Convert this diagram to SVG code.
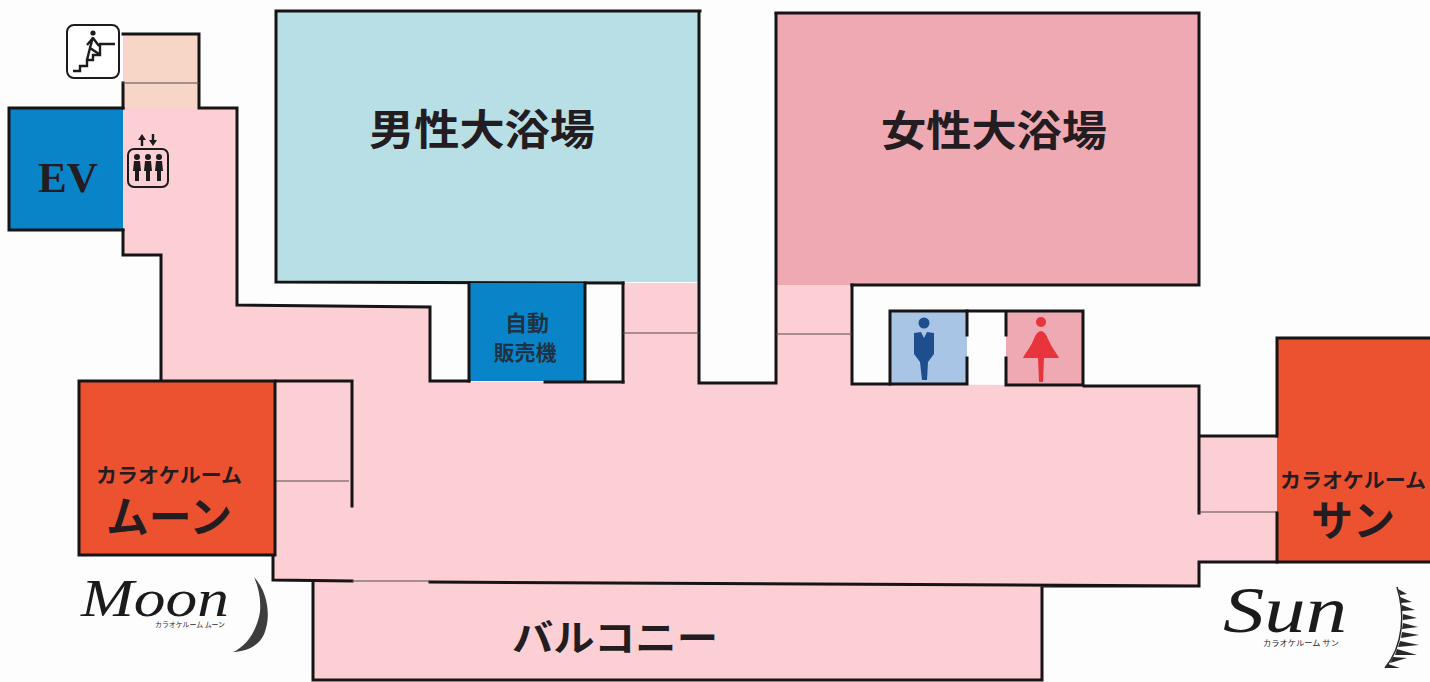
<svg xmlns="http://www.w3.org/2000/svg" width="1430" height="682" viewBox="0 0 1430 682">
<style>
.w{fill:none;stroke:#171416;stroke-width:3;stroke-linecap:square}
.t{fill:none;stroke:#5a4a4c;stroke-width:1.2}
.j{font-family:"Noto Sans CJK JP",sans-serif;font-weight:700;fill:#231c20;text-anchor:middle}
.s{font-family:"Liberation Serif",serif;font-style:italic;fill:#1c1a1c;text-anchor:middle}
.k{fill:#1c1a1c}
.c{font-family:"Noto Sans CJK JP",sans-serif;font-weight:400;fill:#2a2829;text-anchor:middle}
</style>
<rect width="1430" height="682" fill="#fdfdfd"/>
<g id="floor">
<path d="M123 33H199V108H237V305L430 307V382H699V384H776V384H852L1199 386V436H1277V562H1199V586H1042V680H313V582L273 580V380H161V255H123Z" fill="#fbcfd3"/>
<rect x="623" y="283" width="76" height="100" fill="#fbcfd3"/>
<rect x="776" y="284" width="76" height="100" fill="#fbcfd3"/>
<rect x="125" y="35" width="73" height="72" fill="#f7d6c8"/>
</g>
<g id="bath-men">
<rect x="276" y="11" width="424" height="271" fill="#b9dfe6"/>
<path class="w" d="M623 283L276 282V11H700"/>
<text class="j" x="482" y="145" font-size="42" textLength="226" lengthAdjust="spacingAndGlyphs">男性大浴場</text>
</g>
<g id="bath-women">
<rect x="776" y="13" width="423" height="272" fill="#eea9b3"/>
<path class="w" d="M776 13H1199V285H852"/>
<text class="j" x="994" y="146" font-size="42" textLength="226" lengthAdjust="spacingAndGlyphs">女性大浴場</text>
</g>
<g id="ev">
<rect x="9" y="108" width="114" height="122" fill="#0a84c8"/>
<path class="w" d="M123 108H9V230H123"/>
<text x="68" y="192" font-family="Liberation Serif,serif" font-weight="700" font-size="42" fill="#231c20" text-anchor="middle" textLength="60" lengthAdjust="spacingAndGlyphs">EV</text>
</g>
<g id="vending">
<rect x="469" y="283" width="116" height="98" fill="#0a84c8"/>
<path d="M469 283V381M585 283V381M545 382H623" class="w"/>
<text class="j" x="527" y="331" font-size="22" fill-opacity=".8">自動</text>
<text class="j" x="525" y="360" font-size="21" fill-opacity=".8">販売機</text>
</g>
<g id="walls">
<path class="w" d="M123 83V108M123 34H199V108H237V305L430 307V381H469M623 283V382"/>
<path class="w" d="M123 230V255H161V380"/>
<path class="w" d="M699 12V383H776V14"/>
<path class="w" d="M852 285V384H890"/>
<path class="w" d="M1084 386H1199V436H1277M1199 436V513M1199 562V586H1042V680H313V583M430 582L1199 586M1277 562H1199"/>
<path class="w" d="M276 381H352V506M273 556V580L352 581"/>
<path class="t" d="M123 83H199M623 333H699M776 334H852M275 481H349M1199 512H1277M352 581H430"/>
</g>
<g id="moon-room">
<rect x="79" y="381" width="196" height="174" fill="#ec5230" stroke="#171416" stroke-width="3"/>
<text class="j" x="169" y="483" font-size="20" textLength="146" lengthAdjust="spacingAndGlyphs">カラオケルーム</text>
<text class="j" x="169" y="533" font-size="43" textLength="126" lengthAdjust="spacingAndGlyphs">ムーン</text>
</g>
<g id="sun-room">
<path d="M1430 338H1277V562H1430Z" fill="#ec5230"/>
<path class="w" d="M1430 338H1277V436M1277 513V562H1430"/>
<text class="j" x="1353" y="488" font-size="20" textLength="146" lengthAdjust="spacingAndGlyphs">カラオケルーム</text>
<text class="j" x="1353" y="536" font-size="42" textLength="84" lengthAdjust="spacingAndGlyphs">サン</text>
</g>
<g id="toilet-men">
<rect x="890" y="311" width="77" height="73" fill="#a9c5e6"/>
<path class="w" d="M890 311V384H967V358M967 335V311H890"/>
<circle cx="924" cy="323" r="5.500" fill="#1f4e8e"/>
<path d="M914 333L921 332L924 338L927 332L934 333V354L928 362L927 380H922L920 362L914 354Z" fill="#1f4e8e"/>
</g>
<g id="toilet-women">
<rect x="1006" y="311" width="77" height="73" fill="#eea9b3"/>
<path class="w" d="M967 311H1083V385M1083 385H1006V358M1006 335V311"/>
<circle cx="1041" cy="322" r="5" fill="#e8343c"/>
<path d="M1041 331C1046 332 1047 337 1049 341C1052 348 1056 352 1059 358H1044L1043 382H1039L1038 358H1023C1026 352 1030 348 1033 341C1035 337 1036 332 1041 331Z" fill="#e8343c"/>
</g>
<g id="balcony">
<text class="j" x="615" y="652" font-size="37" textLength="206" lengthAdjust="spacingAndGlyphs">バルコニー</text>
</g>
<g id="stairs-icon">
<rect x="67" y="25" width="52" height="53" rx="7" fill="#fff" stroke="#1c1a1c" stroke-width="2"/>
<path d="M73 71H80V66H87V60H93V55H100V44H115" fill="none" stroke="#1c1a1c" stroke-width="2.400"/>
<circle cx="93" cy="33" r="2.600" class="k"/>
<path d="M93 37L90 48L87 60M93 38L87 45M93 38L99 46M90 48L99 54" fill="none" stroke="#1c1a1c" stroke-width="2.400"/>
</g>
<g id="elevator-icon">
<rect x="128" y="149" width="40" height="38" rx="6" fill="none" stroke="#1c1a1c" stroke-width="2"/>
<g class="k">
<circle cx="137" cy="157" r="3"/><path d="M134 161H140L141 171H139V181H135V171H133Z"/>
<circle cx="148" cy="157" r="3"/><path d="M145 161H151L152 171H150V181H146V171H144Z"/>
<circle cx="159" cy="157" r="3"/><path d="M156 161H162L163 171H161V181H157V171H155Z"/>
<path d="M142 134L146 140H143.200V146H140.800V140H138Z"/>
<path d="M153 146L149 140H151.800V134H154.200V140H157Z"/>
</g>
</g>
<g id="moon-logo">
<text class="s" x="155" y="616" font-size="52" textLength="148" lengthAdjust="spacingAndGlyphs">Moon</text>
<text class="c" x="190" y="627" font-size="7" textLength="70" lengthAdjust="spacingAndGlyphs">カラオケルーム ムーン</text>
<path d="M254 577C268 592 270 615 266 628C263 642 252 651 233 652C247 646 257 630 260 612C261 600 259 588 254 577Z" fill="#3e3c3e"/>
</g>
<g id="sun-logo">
<text class="s" x="1285" y="632" font-size="66" textLength="124" lengthAdjust="spacingAndGlyphs">Sun</text>
<text class="c" x="1301" y="646" font-size="7.500" textLength="76" lengthAdjust="spacingAndGlyphs">カラオケルーム サン</text>
<path d="M1397 587C1405 612 1404 645 1385 668" fill="none" stroke="#2a2829" stroke-width="1.500"/>
<path d="M1398 589L1407 594L1400 595ZM1400 597L1412 602L1401 603ZM1402 605L1415 610L1402 611ZM1403 614L1417 618L1403 620ZM1403 623L1418 627L1402 629ZM1402 632L1419 635L1401 638ZM1400 641L1419 645L1398 647ZM1397 649L1417 655L1395 655ZM1393 657L1407 658L1390 663ZM1388 664L1400 668L1385 668Z" fill="#2a2829"/>
</g>
</svg>
